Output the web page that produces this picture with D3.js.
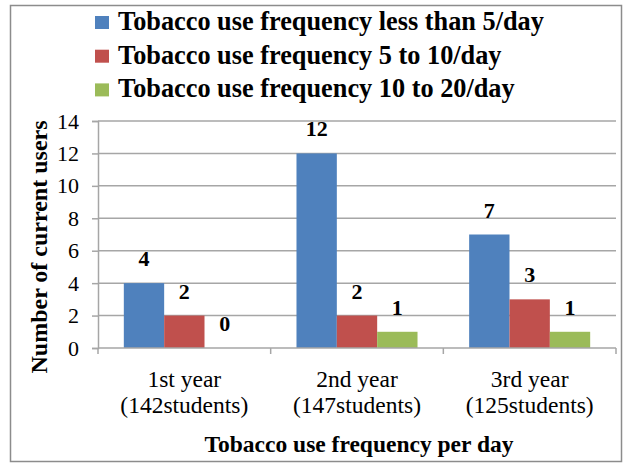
<!DOCTYPE html>
<html>
<head>
<meta charset="utf-8">
<script src="https://cdn.jsdelivr.net/npm/d3@7"></script>
<style>
  html, body { margin: 0; padding: 0; background: #fff; }
  svg { display: block; }
  svg text { font-family: "Liberation Serif", "DejaVu Serif", serif; fill: #000; }
</style>
</head>
<body>
<svg id="chart" width="631" height="467"></svg>
<script>
// Chart data
const categories = ["1st year\n(142students)", "2nd year\n(147students)", "3rd year\n(125students)"];
const seriesNames = [
  "Tobacco use frequency less than 5/day",
  "Tobacco use frequency 5 to 10/day",
  "Tobacco use frequency 10 to 20/day"
];
const lessThan5 = [4, 12, 7];
const from5to10 = [2, 2, 3];
const from10to20 = [0, 1, 1];
const yTicks = [0, 2, 4, 6, 8, 10, 12, 14];
const colors = ["#4f81bd", "#c0504d", "#9bbb59"];

const seriesValues = [lessThan5, from5to10, from10to20];

const svg = d3.select("#chart");
const plot = { left: 98, right: 616, top: 121, bottom: 348 };
const gridColor = "#a6a6a6";

// Outer frame
svg.append("rect")
  .attr("x", 10.5).attr("y", 5.5)
  .attr("width", 611).attr("height", 456)
  .attr("fill", "#fff").attr("stroke", "#8c8c8c").attr("stroke-width", 1.5);

const x0 = d3.scaleBand().domain(d3.range(categories.length))
  .range([plot.left, plot.right]).paddingInner(0).paddingOuter(0);
const x1 = d3.scaleBand().domain(d3.range(seriesNames.length))
  .range([0, x0.bandwidth()]).paddingOuter(0.64).paddingInner(0);
const y = d3.scaleLinear().domain([0, 14]).range([plot.bottom, plot.top]);

// Horizontal gridlines
svg.append("g").selectAll("line").data(yTicks.filter(d => d > 0)).join("line")
  .attr("x1", plot.left).attr("x2", plot.right)
  .attr("y1", d => y(d)).attr("y2", d => y(d))
  .attr("stroke", gridColor).attr("stroke-width", 1.5);

// Y axis
const yAxis = d3.axisLeft(y).tickValues(yTicks).tickSize(6).tickPadding(13);
const gy = svg.append("g").attr("transform", `translate(${plot.left},0)`).call(yAxis);
gy.attr("font-family", null).attr("font-size", null);
gy.select(".domain").attr("stroke", gridColor).attr("stroke-width", 1.5);
gy.selectAll(".tick line").attr("stroke", gridColor).attr("stroke-width", 1.5);
gy.selectAll(".tick text").style("font-size", "22px").attr("fill", "#000");

// Bars with value labels
const groups = svg.append("g").selectAll("g").data(categories).join("g")
  .attr("transform", (d, i) => `translate(${x0(i)},0)`);

groups.each(function (c, ci) {
  const g = d3.select(this);
  seriesValues.forEach((vals, si) => {
    const v = vals[ci];
    g.append("rect")
      .attr("x", x1(si)).attr("width", x1.bandwidth())
      .attr("y", y(v)).attr("height", y(0) - y(v))
      .attr("fill", colors[si]);
    g.append("text")
      .attr("x", x1(si) + x1.bandwidth() / 2)
      .attr("y", y(v) - 17)
      .attr("text-anchor", "middle")
      .style("font-weight", "bold").style("font-size", "22px")
      .text(v);
  });
});

// X axis (ticks at category boundaries)
svg.append("line")
  .attr("x1", plot.left).attr("x2", plot.right)
  .attr("y1", plot.bottom).attr("y2", plot.bottom)
  .attr("stroke", gridColor).attr("stroke-width", 1.5);
const boundaries = d3.range(categories.length + 1)
  .map(i => i < categories.length ? x0(i) : x0(i - 1) + x0.bandwidth());
svg.append("g").selectAll("line").data(boundaries).join("line")
  .attr("x1", d => d).attr("x2", d => d)
  .attr("y1", plot.bottom).attr("y2", plot.bottom + 6)
  .attr("stroke", gridColor).attr("stroke-width", 1.5);

// Category labels (two lines each)
const catText = svg.append("g").selectAll("text").data(categories).join("text")
  .attr("text-anchor", "middle")
  .style("font-size", "23.5px")
  .attr("transform", (d, i) => `translate(${x0(i) + x0.bandwidth() / 2},0)`);
catText.each(function (d) {
  const lines = d.split("\n");
  d3.select(this).selectAll("tspan").data(lines).join("tspan")
    .attr("x", 0).attr("y", (l, i) => 387 + i * 26).text(l => l);
});

// Axis titles
svg.append("text")
  .attr("x", (plot.left + plot.right) / 2 + 2).attr("y", 452)
  .attr("text-anchor", "middle")
  .style("font-weight", "bold").style("font-size", "23.5px")
  .text("Tobacco use frequency per day");

svg.append("text")
  .attr("transform", "translate(47,247) rotate(-90)")
  .attr("text-anchor", "middle")
  .style("font-weight", "bold").style("font-size", "24px")
  .text("Number of current users");

// Legend
const legend = svg.append("g").selectAll("g").data(seriesNames).join("g")
  .attr("transform", (d, i) => `translate(95,${30 + i * 33.7})`);
legend.append("rect")
  .attr("x", 0).attr("y", -14).attr("width", 14).attr("height", 13)
  .attr("fill", (d, i) => colors[i]);
legend.append("text")
  .attr("x", 23).attr("y", 0)
  .style("font-weight", "bold").style("font-size", "26.3px")
  .text(d => d);
</script>
</body>
</html>
